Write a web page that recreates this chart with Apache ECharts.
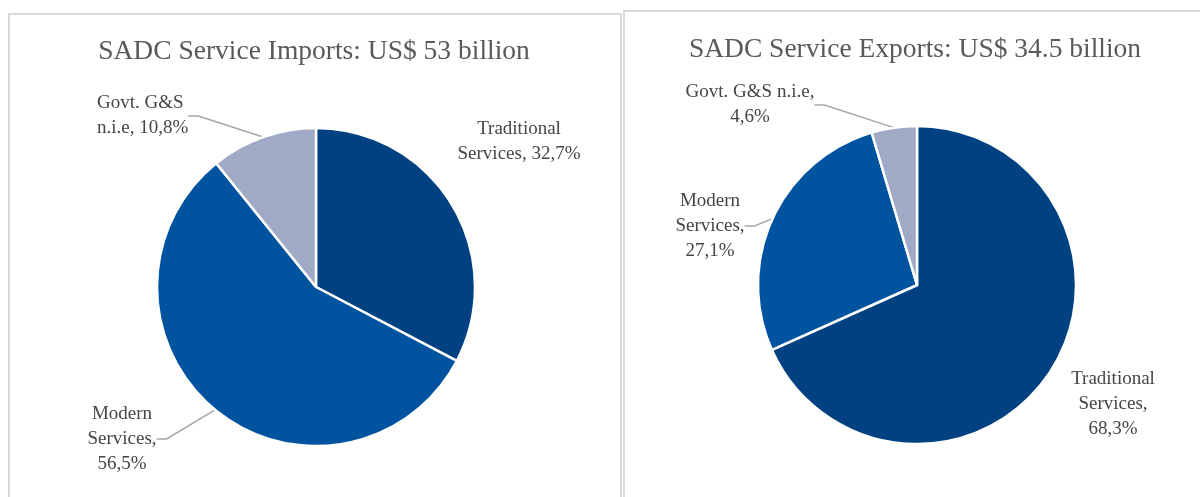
<!DOCTYPE html>
<html>
<head>
<meta charset="utf-8">
<style>
html,body{margin:0;padding:0;background:#fff;}
#chart{width:1200px;height:497px;}
</style>
<script src="https://cdn.jsdelivr.net/npm/echarts@6/dist/echarts.min.js"></script>
</head>
<body>
<div id="chart"></div>
<script>
// ---- data ----
const categories = ['Traditional Services', 'Modern Services', 'Govt. G&S n.i.e'];
const importValues = [32.7, 56.5, 10.8];
const exportValues = [68.3, 27.1, 4.6];
const titles = ['SADC Service Imports: US$ 53 billion', 'SADC Service Exports: US$ 34.5 billion'];
// how label text is broken into lines for each chart (layout only)
const importLabelLines = [['Traditional', 'Services, {v}'], ['Modern', 'Services,', '{v}'], ['Govt. G&S', 'n.i.e, {v}']];
const exportLabelLines = [['Traditional', 'Services,', '{v}'], ['Modern', 'Services,', '{v}'], ['Govt. G&S n.i.e,', '{v}']];

const colors = ['#004281', '#00549f', '#a0aac7'];
const fmt = v => v.toFixed(1).replace('.', ',') + '%';

// label placements (layout)
const importLabelPos = [
  {x: 519, y: 142, align: 'center'},
  {x: 122, y: 439, align: 'center'},
  {x: 97, y: 116, align: 'left'}
];
const exportLabelPos = [
  {x: 1113, y: 404, align: 'center'},
  {x: 710, y: 226, align: 'center'},
  {x: 750, y: 105, align: 'center'}
];

function makeSeries(values, lines, pos, center) {
  return {
    type: 'pie',
    center: center,
    radius: 159,
    startAngle: 90,
    clockwise: true,
    animation: false,
    silent: true,
    data: categories.map((c, i) => ({
      name: c,
      value: values[i],
      itemStyle: {color: colors[i]},
      labelLine: {show: i !== 0}
    })),
    itemStyle: {borderColor: '#ffffff', borderWidth: 2.5},
    label: {
      show: true,
      position: 'outside',
      fontFamily: 'Liberation Serif',
      fontSize: 19,
      lineHeight: 25,
      color: '#454545',
      formatter: p => lines[p.dataIndex].map(s => s.replace('{v}', fmt(p.value))).join('\n')
    },
    labelLine: {
      show: true,
      length: 10,
      length2: 10,
      lineStyle: {color: '#a6a6a6', width: 1.5}
    },
    labelLayout: p => ({
      x: pos[p.dataIndex].x,
      y: pos[p.dataIndex].y,
      align: pos[p.dataIndex].align,
      verticalAlign: 'middle'
    })
  };
}

const chart = echarts.init(document.getElementById('chart'), null, {renderer: 'canvas'});
chart.setOption({
  backgroundColor: '#ffffff',
  animation: false,
  title: [
    {text: titles[0], left: 314, top: 38, textAlign: 'center', padding: 0,
     textStyle: {fontFamily: 'Liberation Serif', fontSize: 27.5, fontWeight: 'normal', color: '#595959'}},
    {text: titles[1], left: 915, top: 36, textAlign: 'center', padding: 0,
     textStyle: {fontFamily: 'Liberation Serif', fontSize: 27.5, fontWeight: 'normal', color: '#595959'}}
  ],
  graphic: [
    {type: 'rect', shape: {x: 9, y: 14, width: 612, height: 500}, style: {fill: 'none', stroke: '#d9d9d9', lineWidth: 2}, silent: true},
    {type: 'rect', shape: {x: 624, y: 11, width: 600, height: 500}, style: {fill: 'none', stroke: '#d9d9d9', lineWidth: 2}, silent: true}
  ],
  series: [
    makeSeries(importValues, importLabelLines, importLabelPos, [316, 287]),
    makeSeries(exportValues, exportLabelLines, exportLabelPos, [917, 285])
  ]
});
</script>
</body>
</html>
